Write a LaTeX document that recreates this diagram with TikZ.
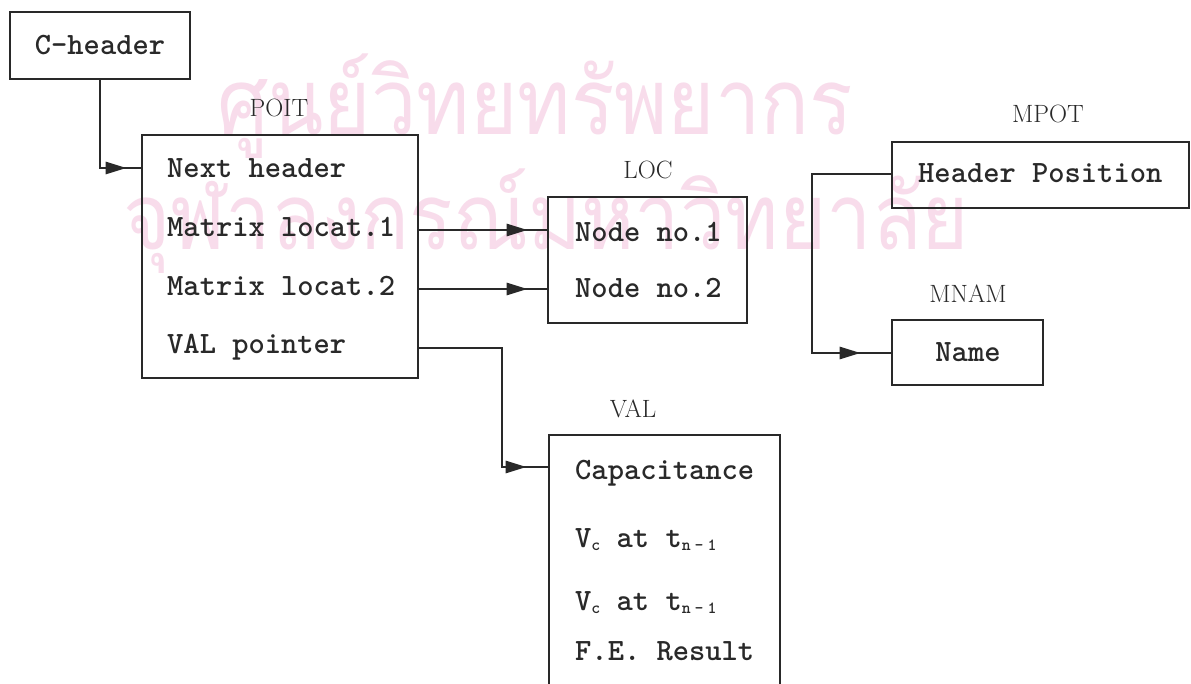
\documentclass[tikz,border=0pt]{standalone}
\usepackage{fontspec}
\newfontfamily\thaifont[Script=Thai]{Loma}
\usetikzlibrary{arrows.meta,decorations.markings}
\definecolor{ink}{gray}{0.16}
\definecolor{wm}{RGB}{248,220,235}
\newcommand\lowsub[1]{\raisebox{-3pt}{\ttfamily\bfseries\fontsize{17}{17}\selectfont #1}}
\begin{document}
\begin{tikzpicture}[x=1pt,y=-1pt,color=ink,
  box/.style={draw=ink, line width=2.8pt, inner sep=0pt, rectangle},
  rowtext/.style={anchor=base west, inner sep=0pt, font=\ttfamily\bfseries\fontsize{31}{36}\selectfont, text=ink},
  title/.style={anchor=base, inner sep=0pt, font=\fontsize{25}{30}\selectfont, text=ink},
  link/.style={draw=ink, line width=2.8pt},
  head/.style={postaction={decorate}, decoration={markings,
     mark=at position -#1 with {\arrow{Triangle[length=21pt,width=12pt]}}}},
  wmark/.style={anchor=base west, inner sep=0pt, text=wm, xscale=0.88,
     font=\thaifont\fontsize{92}{100}\selectfont}
]
\useasboundingbox (0,0) rectangle (1191,684);
\clip (0,0) rectangle (1191,684);
\fill[white] (0,0) rectangle (1191,684);

% watermark
\node[wmark] (wm1) at (217,135) {ศูนย์วิทยทรัพยากร};
\node[wmark] (wm2) at (123,250) {จุฬาลงกรณ์มหาวิทยาลัย};

% row levels
\coordinate (y1) at (0,168);
\coordinate (y2) at (0,230);
\coordinate (y3) at (0,289);
\coordinate (y4) at (0,348);
\coordinate (y5) at (0,467);
\coordinate (y6) at (0,174);
\coordinate (y7) at (0,353);

% C-header
\node[box, minimum width=180pt, minimum height=67pt, font=\ttfamily\bfseries\fontsize{31}{36}\selectfont] (chead) at (100,45.5) {C-header};

% POIT
\node[title] (poitlbl) at (279,117) {POIT};
\node[box, minimum width=276pt, minimum height=243pt] (poit) at (280,256.5) {};
\node[rowtext] (pnext) at (167,178) {Next header};
\node[rowtext] (pm1) at (167,237) {Matrix locat.1};
\node[rowtext] (pm2) at (167,296) {Matrix locat.2};
\node[rowtext] (pval) at (167,354) {VAL pointer};

% LOC
\node[title] (loclbl) at (648,179) {LOC};
\node[box, minimum width=199pt, minimum height=126pt] (loc) at (647.5,260) {};
\node[rowtext] (ln1) at (575,242) {Node no.1};
\node[rowtext] (ln2) at (575,298) {Node no.2};

% VAL
\node[title] (vallbl) at (633,417) {VAL};
\node[box, minimum width=231pt, minimum height=300pt] (val) at (664.5,585) {};
\node[rowtext] (vcap) at (575,479) {Capacitance};
\node[rowtext] (vc1) at (575,547) {V\lowsub{c} at t\lowsub{n\kern4pt-\kern4pt1}};
\node[rowtext] (vc2) at (575,610) {V\lowsub{c} at t\lowsub{n\kern4pt-\kern4pt1}};
\node[rowtext] (vfe) at (575,660) {F.E. Result};

% MPOT
\node[title] (mpotlbl) at (1048,123) {MPOT};
\node[box, minimum width=297pt, minimum height=66pt] (mpot) at (1040.5,175) {};
\node[rowtext] (mhp) at (918,183) {Header Position};

% MNAM
\node[title] (mnamlbl) at (968,303) {MNAM};
\node[box, minimum width=151pt, minimum height=65pt] (mnam) at (967.5,352.5) {};
\node[rowtext, anchor=base] (mname) at (968,362) {Name};

% connectors
\draw[link, head=14pt] (chead.south) |- (poit.west |- y1);
\draw[link, head=19pt] (poit.east |- y2) -- (loc.west |- y2);
\draw[link, head=19pt] (poit.east |- y3) -- (loc.west |- y3);
\coordinate (vbend) at (502,348);
\draw[link, head=21pt] (poit.east |- y4) -- (vbend) |- (val.west |- y5);
\coordinate (mbend) at (812,174);
\draw[link, head=30pt] (mpot.west |- y6) -- (mbend) |- (mnam.west |- y7);
\end{tikzpicture}
\end{document}
